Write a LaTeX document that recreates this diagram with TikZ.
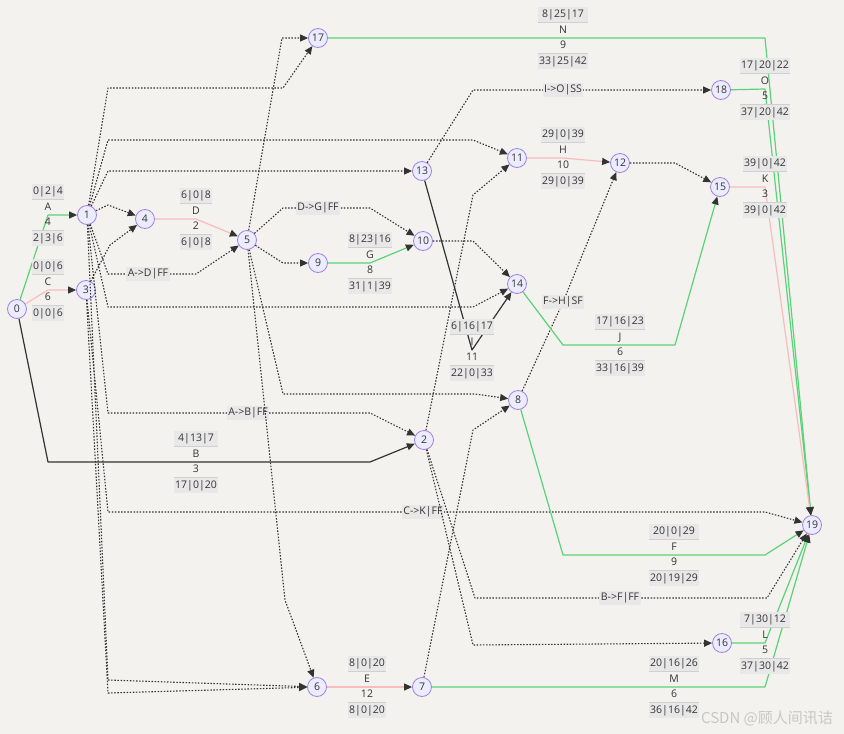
\documentclass[tikz,border=0pt]{standalone}
\usepackage{fontspec}
\setmainfont{Open Sans}
\newfontfamily\cjk{Noto Sans CJK SC}
\usepackage{colortbl}
\usetikzlibrary{arrows.meta}
\definecolor{pagebg}{RGB}{243,242,238}
\definecolor{evfill}{RGB}{236,236,255}
\definecolor{evdraw}{RGB}{160,130,225}
\definecolor{linkdark}{RGB}{51,51,51}
\definecolor{linkgreen}{RGB}{90,210,120}
\definecolor{linkpink}{RGB}{248,188,188}
\definecolor{lblgray}{RGB}{232,232,232}
\definecolor{lblrule}{RGB}{208,208,208}
\arrayrulecolor{lblrule}
\setlength{\arrayrulewidth}{0.8pt}
\setlength{\tabcolsep}{1.5pt}
% four-row activity label: times / name / duration / times
\newcommand{\actv}[4]{\begin{tabular}{c}\cellcolor{lblgray}#1\\\hline #2\\ #3\\\hline\cellcolor{lblgray}#4\end{tabular}}
\tikzset{
  evt/.style={circle, draw=evdraw, fill=evfill, line width=0.8pt, minimum size=19pt,
              inner sep=1.5pt, font=\fontsize{10.5}{12}\selectfont, text=linkdark},
  link/.style={-{Triangle[length=8pt,width=7pt,color=linkdark]}, line width=1.2pt, line join=round},
  hard/.style={link, draw=linkdark},
  crit/.style={link, draw=linkpink},
  free/.style={link, draw=linkgreen},
  dep/.style={link, draw=linkdark, line width=1.1pt, dash pattern=on 1.5pt off 1.6pt},
  act/.style={inner sep=0pt, font=\fontsize{10.5}{15.3}\selectfont, text=linkdark},
  lag/.style={fill=lblgray, inner sep=1.5pt, font=\fontsize{10.5}{12}\selectfont, text=linkdark},
  wm/.style={font=\cjk\fontsize{15}{15}\selectfont, text=black!22}
}
\begin{document}
\begin{tikzpicture}[x=1pt, y=-1pt]
  \fill[pagebg] (0,0) rectangle (844,734);
  \useasboundingbox (0,0) rectangle (844,734);
  % events
  \node[evt] (n0) at (17,309) {0};
  \node[evt] (n1) at (87,215) {1};
  \node[evt] (n3) at (86,290) {3};
  \node[evt] (n4) at (145,219) {4};
  \node[evt] (n5) at (247,240) {5};
  \node[evt] (n9) at (318,263) {9};
  \node[evt] (n17) at (318,38) {17};
  \node[evt] (n13) at (422,171) {13};
  \node[evt] (n10) at (423,241) {10};
  \node[evt] (n2) at (424,440) {2};
  \node[evt] (n6) at (317,687) {6};
  \node[evt] (n7) at (422,687) {7};
  \node[evt] (n11) at (517,158) {11};
  \node[evt] (n14) at (517,284) {14};
  \node[evt] (n8) at (518,400) {8};
  \node[evt] (n12) at (620,163) {12};
  \node[evt] (n18) at (721,90) {18};
  \node[evt] (n15) at (720,187) {15};
  \node[evt] (n16) at (722,643) {16};
  \node[evt] (n19) at (812,525) {19};
  % dependencies
  \draw[dep] (n1) -- (108,88) -- (283,88) -- (n17);
  \draw[dep] (n5) -- (282,38) -- (n17);
  \draw[dep] (n1) -- (108,140) -- (473,140) -- (n11);
  \draw[dep] (n1) -- (108,171) -- (n13);
  \draw[dep] (n1) -- (108,205) -- (n4);
  \draw[dep] (n3) -- (110,245) -- (n4);
  \draw[dep] (n1) -- (108,274) -- (148,274) node[lag]{A->D|FF} -- (196,274) -- (n5);
  \draw[dep] (n1) -- (108,307) -- (473,307) -- (n14);
  \draw[dep] (n1) -- (108,413) -- (248,413) node[lag]{A->B|FF} -- (370,413) -- (n2);
  \draw[dep] (n1) -- (108,680) -- (n6);
  \draw[dep] (n3) -- (108,512) -- (423,512) node[lag]{C->K|FF} -- (765,512) -- (n19);
  \draw[dep] (n3) -- (108,693) -- (n6);
  \draw[dep] (n5) -- (283,263) -- (n9);
  \draw[dep] (n5) -- (283,208) -- (318,208) node[lag]{D->G|FF} -- (370,208) -- (n10);
  \draw[dep] (n5) -- (283,394) -- (475,394) -- (n8);
  \draw[dep] (n5) -- (285,600) -- (n6);
  \draw[dep] (n10) -- (473,241) -- (n14);
  \draw[dep] (n13) -- (473,90) -- (563,90) node[lag]{I->O|SS} -- (n18);
  \draw[dep] (n2) -- (473,195) -- (n11);
  \draw[dep] (n2) -- (473,645) -- (n16);
  \draw[dep] (n2) -- (475,598) -- (620,598) node[lag]{B->F|FF} -- (767,598) -- (n19);
  \draw[dep] (n7) -- (473,430) -- (n8);
  \draw[dep] (n8) -- (563,302) node[lag]{F->H|SF} -- (n12);
  \draw[dep] (n12) -- (675,163) -- (n15);
  % activities
  \draw[free] (n0) -- (48,215) node[act]{\actv{0|2|4}{A}{4}{2|3|6}} -- (n1);
  \draw[crit] (n0) -- (48,290) node[act]{\actv{0|0|6}{C}{6}{0|0|6}} -- (n3);
  \draw[hard] (n0) -- (48,462) -- (196,462) node[act]{\actv{4|13|7}{B}{3}{17|0|20}} -- (370,462) -- (n2);
  \draw[crit] (n4) -- (196,219) node[act]{\actv{6|0|8}{D}{2}{6|0|8}} -- (n5);
  \draw[free] (n9) -- (370,263) node[act]{\actv{8|23|16}{G}{8}{31|1|39}} -- (n10);
  \draw[crit] (n11) -- (563,158) node[act]{\actv{29|0|39}{H}{10}{29|0|39}} -- (n12);
  \draw[hard] (n13) -- (472,350) node[act]{\actv{6|16|17}{I}{11}{22|0|33}} -- (n14);
  \draw[free] (n14) -- (563,345) -- (620,345) node[act]{\actv{17|16|23}{J}{6}{33|16|39}} -- (675,345) -- (n15);
  \draw[free] (n8) -- (563,555) -- (674,555) node[act]{\actv{20|0|29}{F}{9}{20|19|29}} -- (765,555) -- (n19);
  \draw[crit] (n6) -- (367,687) node[act]{\actv{8|0|20}{E}{12}{8|0|20}} -- (n7);
  \draw[free] (n7) -- (674,687) node[act]{\actv{20|16|26}{M}{6}{36|16|42}} -- (765,687) -- (n19);
  \draw[free] (n16) -- (765,643) node[act]{\actv{7|30|12}{L}{5}{37|30|42}} -- (n19);
  \draw[free] (n17) -- (563,38) node[act]{\actv{8|25|17}{N}{9}{33|25|42}} -- (765,38) -- (n19);
  \draw[free] (n18) -- (765,89) node[act]{\actv{17|20|22}{O}{5}{37|20|42}} -- (n19);
  \draw[crit] (n15) -- (765,187) node[act]{\actv{39|0|42}{K}{3}{39|0|42}} -- (n19);
  \node[wm] (mark) at (767,718) {CSDN @顾人间讯诘};
\end{tikzpicture}
\end{document}
